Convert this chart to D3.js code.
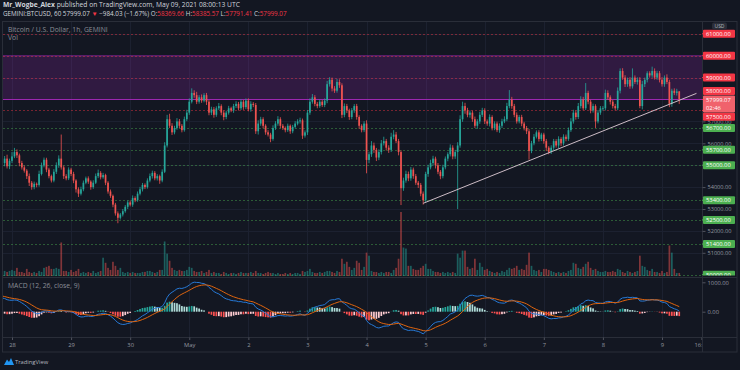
<!DOCTYPE html>
<html><head><meta charset="utf-8">
<script src="https://cdn.jsdelivr.net/npm/d3@7"></script>
<style>
html,body{margin:0;padding:0;background:#131722;}
svg{display:block;}
text{font-family:"Open Sans","Noto Sans",sans-serif;}
</style></head><body>
<svg id="c" width="740" height="370"></svg>
<script>
// ---------- DATA ----------
const firstCandleTime = "2021-04-27T20:00:00Z"; // hourly candles
const firstOpen = 54950;
const closes = [
// Apr 27 20-23
55100,55300,54950,55200,
// Apr 28
55400,55600,55450,55100,54900,54750,54500,54200,54000,54150,54100,54600,55000,55250,54800,54500,54300,54700,55000,55300,54900,54500,54400,54800,
// Apr 29
54600,54300,53900,53700,53900,54200,54400,54250,54000,54200,54500,54650,54450,54550,54200,53800,53600,53200,52800,52600,52750,52900,53100,53300,
// Apr 30
53200,53500,53400,53700,53900,54100,54000,54300,54500,54650,54400,54500,54300,54700,55900,57100,56800,56500,56700,57000,56800,56600,57100,57400,
// May 1
57900,58300,58200,57900,58100,57950,58200,57900,57400,57550,57300,57600,57700,57400,57200,57400,57600,57500,57700,57800,57600,57900,57650,57950,
// May 2
57550,57800,57750,56550,56900,57100,56800,56500,56400,56200,56700,56900,57100,56800,56700,56600,56800,56550,56750,56900,57000,57050,56350,56500,
// May 3
57400,57900,58100,57800,57700,57900,57750,57950,58700,58900,58500,58400,58800,58650,57300,57700,57500,57200,57500,57700,57200,56800,56600,56900,
// May 4
55240,55500,55900,55700,55350,55600,56000,56100,55800,55700,56300,56400,56100,55600,53950,54300,54600,54400,54800,54500,54200,54100,53700,53400,
// May 5
54600,54900,55100,55300,55000,54700,54500,54900,55300,55500,55800,55400,55600,55900,57100,57700,57500,57300,57400,57100,56800,57000,57300,57500,
// May 6
57000,56900,57200,56700,56900,56600,56800,57000,57100,57700,58000,57700,57300,57000,57200,56900,56700,56550,55650,56000,56300,56500,56200,56400,
// May 7
56100,55800,55600,55800,56100,55900,56200,56000,56300,56200,56600,57000,57400,57200,57700,58000,57600,58300,57900,57500,57700,57000,57400,57600,
// May 8
57600,58300,58100,57900,57700,57600,58400,59300,59000,58700,58900,58600,59000,58800,58900,57700,58700,58900,59200,59100,59300,59000,59200,58900,
// May 9 00-07
58700,59000,58800,57800,58400,58300,58369.66,57999.07
];
const wickUp = [
150,120,180,100,
200,190,120,80,100,90,70,120,80,100,60,150,120,100,90,80,70,120,130,150,1100,80,90,100,
80,100,60,90,120,100,80,90,60,110,120,150,80,100,60,70,90,60,80,90,70,100,80,90,
90,120,80,100,110,90,70,100,120,100,80,90,70,110,150,200,250,120,100,150,110,80,120,130,
150,210,120,150,100,130,90,100,80,120,110,90,140,80,100,90,110,70,100,120,90,110,80,100,
100,120,80,90,150,110,90,70,100,80,120,110,140,90,80,70,100,60,90,110,100,120,80,90,
120,150,150,100,90,110,80,100,150,120,100,110,140,120,90,120,100,80,110,90,100,80,70,110,
150,120,200,130,90,120,150,200,100,110,180,200,120,100,80,130,150,110,120,90,100,80,90,100,
100,120,150,130,90,100,80,120,100,90,150,110,100,150,180,200,150,120,100,90,120,100,140,120,
100,90,120,80,100,90,110,120,130,150,430,120,100,110,90,100,80,90,100,110,120,90,100,80,
80,100,70,110,100,90,120,80,110,100,120,150,130,100,140,150,120,450,100,90,110,80,120,100,
100,150,120,90,80,100,150,120,130,110,100,120,420,100,110,120,150,100,90,90,200,120,110,100,
120,100,150,100,90,110,120,15.91
];
const wickDown = [
120,150,100,130,
100,80,120,150,100,90,130,150,120,100,110,80,70,100,120,100,90,80,100,120,100,130,90,80,
100,120,150,150,80,90,70,100,120,80,60,90,100,70,110,100,90,120,100,250,80,90,70,100,
80,100,90,70,80,100,90,70,80,110,90,100,150,80,60,90,100,120,90,80,110,100,70,90,
100,80,120,110,90,100,80,150,120,110,130,90,80,120,150,100,90,80,110,90,100,80,120,90,
90,110,100,120,150,100,120,110,90,150,80,90,100,110,90,100,80,120,90,70,80,100,150,90,
120,100,90,110,100,80,90,100,120,110,130,100,90,120,150,110,120,130,100,110,120,140,100,90,
610,150,120,140,160,120,110,100,130,140,100,120,90,150,770,120,100,130,110,120,100,140,120,200,
100,130,90,120,150,110,140,100,90,120,100,130,110,2600,100,120,150,110,130,120,100,140,110,100,
120,100,130,110,100,90,120,100,80,90,100,120,110,100,90,120,110,130,400,100,90,80,120,100,
120,150,100,90,110,100,120,130,100,110,90,80,100,120,90,110,100,80,120,130,100,300,90,100,
110,100,120,130,110,100,90,120,100,130,120,110,100,90,120,100,150,130,120,100,110,90,100,120,
110,120,100,150,130,100,120,207.66
];
const volumes = [
5,5,4,5,
6,5,8,4,4,3,7,4,3,4,3,5,4,8,9,10,7,7,8,7,33,5,5,4,
6,4,5,7,3,4,3,4,3,5,3,4,5,18,13,8,6,14,10,6,8,4,3,4,
3,4,3,3,3,4,4,5,5,4,3,4,6,6,34,22,15,8,6,5,6,5,5,6,
9,8,5,4,4,5,3,4,6,3,4,3,3,2,4,3,2,3,3,2,3,4,3,3,
3,4,3,5,3,3,2,3,4,3,3,2,3,2,2,3,2,3,2,3,3,2,5,4,
5,7,4,3,3,4,3,4,5,5,4,3,5,4,17,12,14,9,6,8,15,13,6,9,
23,20,5,4,4,3,4,3,4,4,3,6,8,17,63,28,27,10,10,7,6,6,8,10,
12,7,7,5,4,4,3,4,3,4,3,4,3,22,18,25,25,9,7,8,17,6,13,9,
6,7,5,4,3,4,3,5,4,6,8,7,8,10,6,7,6,11,23,10,6,5,6,4,
7,7,6,5,4,3,4,3,4,3,5,6,13,12,8,7,9,12,14,8,6,7,5,4,
4,5,4,4,5,4,7,6,4,3,5,4,3,4,5,20,10,9,6,5,7,4,4,3,
5,3,4,30,23,7,3,3
];
const resistanceLevels = [61000, 60000, 59000, 58000, 57500];
const supportLevels = [56700, 55700, 55000, 53400, 52500, 51400, 50000];
const zoneTop = 60000, zoneBottom = 58000;
const trendStart = ["2021-05-04T23:00:00Z", 53260];
const trendEnd = ["2021-05-09T14:00:00Z", 58280];
const priceTicks = [51000,52000,53000,54000,55000,56000,57000,58000,59000,60000,61000];
const macdTicks = [0, 1000];
const macdSeed = [55000, 54510, 550]; // EMA12, EMA26, signal before first visible bar
const dayTicks = ["2021-04-28","2021-04-29","2021-04-30","2021-05-01","2021-05-02","2021-05-03","2021-05-04","2021-05-05","2021-05-06","2021-05-07","2021-05-08","2021-05-09","2021-05-09T16:00"];
const publisher = "Mr_Wogbe_Alex";
const publishText = " published on TradingView.com, May 09, 2021 08:00:13 UTC";
const symbolText = "GEMINI:BTCUSD, 60";
const lastPriceText = "57999.07";
const changeText = "\u2212984.03 (\u22121.67%)";
const ohlcNames = ["O:","H:","L:","C:"];
const ohlcValues = ["58369.66","58385.57","57791.41","57999.07"];
const titleText = "Bitcoin / U.S. Dollar, 1h, GEMINI";
const volText = "Vol";
const macdText = "MACD (12, 26, close, 9)";
const countdownText = "02:46";
const currencyText = "USD";

// ---------- LAYOUT ----------
const W = 740, H = 370;
const L = 3, R = 702, RR = 737, T = 21.5, PB = 277, MB = 337, B = 352;
const UP = "#26a69a", DN = "#ef5350";
const svg = d3.select("#c");
svg.append("rect").attr("width", W).attr("height", H).attr("fill", "#131722");

const t0 = new Date(firstCandleTime).getTime();
const bars = closes.map((c, i) => {
  const o = i === 0 ? firstOpen : closes[i - 1];
  return {t: new Date(t0 + i * 3600e3), o, c, h: Math.max(o, c) + wickUp[i], l: Math.min(o, c) - wickDown[i], v: volumes[i]};
});

const x = d3.scaleUtc().domain([new Date("2021-04-28T00:00:00Z"), new Date("2021-05-09T00:00:00Z")]).range([12, 662]);
const y = d3.scaleLinear().domain([50000, 61000]).range([274.7, 33.8]);
const yv = d3.scaleLinear().domain([0, d3.max(volumes)]).range([276, 212]);
const ym = d3.scaleLinear().domain([-1000, 1000]).range([341.1, 282.3]);
const bw = 1.7;

const defs = svg.append("defs");
defs.append("clipPath").attr("id", "cp").append("rect").attr("x", L).attr("y", T).attr("width", R - L).attr("height", PB - T);
defs.append("clipPath").attr("id", "cm").append("rect").attr("x", L).attr("y", PB).attr("width", R - L).attr("height", MB - PB);
defs.append("clipPath").attr("id", "ct").append("rect").attr("x", L).attr("y", MB).attr("width", R - L).attr("height", B - MB);
defs.append("clipPath").attr("id", "ca").append("rect").attr("x", R).attr("y", T).attr("width", RR - R).attr("height", PB - 1.5 - T);

// grid
const grid = svg.append("g").attr("stroke", "#1c2130").attr("stroke-width", 1);
dayTicks.slice(0, 12).forEach(d => {
  const xx = Math.round(x(new Date(d + "T00:00:00Z"))) + 0.5;
  grid.append("line").attr("x1", xx).attr("x2", xx).attr("y1", T).attr("y2", MB);
});
priceTicks.forEach(p => {
  const yy = Math.round(y(p)) + 0.5;
  grid.append("line").attr("x1", L).attr("x2", R).attr("y1", yy).attr("y2", yy);
});

// price pane
const pp = svg.append("g").attr("clip-path", "url(#cp)");
pp.append("rect").attr("x", L).attr("width", R - L).attr("y", y(zoneTop)).attr("height", y(zoneBottom) - y(zoneTop))
  .attr("fill", "rgba(156,39,176,0.22)");
pp.append("line").attr("x1", L).attr("x2", R).attr("y1", y(zoneTop)).attr("y2", y(zoneTop)).attr("stroke", "rgba(156,39,176,0.6)");
pp.append("line").attr("x1", L).attr("x2", R).attr("y1", y(zoneBottom)).attr("y2", y(zoneBottom)).attr("stroke", "#9c27b0").attr("stroke-width", 1);
resistanceLevels.filter(p => p !== zoneBottom).forEach(p => {
  pp.append("line").attr("x1", L).attr("x2", R).attr("y1", Math.round(y(p)) + 0.5).attr("y2", Math.round(y(p)) + 0.5)
    .attr("stroke", "rgba(242,54,69,0.45)").attr("stroke-dasharray", "2,2");
});
supportLevels.forEach(p => {
  pp.append("line").attr("x1", L).attr("x2", R).attr("y1", Math.round(y(p)) + 0.5).attr("y2", Math.round(y(p)) + 0.5)
    .attr("stroke", "rgba(76,175,80,0.45)").attr("stroke-dasharray", "2,2");
});

// volume
pp.append("g").selectAll("rect").data(bars).join("rect")
  .attr("x", d => x(d.t) - bw / 2).attr("width", bw)
  .attr("y", d => yv(d.v)).attr("height", d => 276 - yv(d.v))
  .attr("fill", d => d.c >= d.o ? "rgba(38,166,154,0.5)" : "rgba(239,83,80,0.5)");

// candles
const cg = pp.append("g");
cg.selectAll("line").data(bars).join("line")
  .attr("x1", d => x(d.t)).attr("x2", d => x(d.t))
  .attr("y1", d => y(d.h)).attr("y2", d => y(d.l))
  .attr("stroke", d => d.c >= d.o ? UP : DN).attr("stroke-width", 0.8);
cg.selectAll("rect").data(bars).join("rect")
  .attr("x", d => x(d.t) - bw / 2).attr("width", bw)
  .attr("y", d => y(Math.max(d.o, d.c)))
  .attr("height", d => Math.max(0.8, Math.abs(y(d.o) - y(d.c))))
  .attr("fill", d => d.c >= d.o ? UP : DN);

// trend line
{
  const x1 = x(new Date(trendStart[0])), y1 = y(trendStart[1]);
  const x2 = x(new Date(trendEnd[0])), y2 = y(trendEnd[1]);
  pp.append("line").attr("x1", x1).attr("y1", y1).attr("x2", x2).attr("y2", y2)
    .attr("stroke", "#cdbcc6").attr("stroke-width", 1);
}

// MACD
const k12 = 2 / 13, k26 = 2 / 27, k9 = 2 / 10;
let e12 = macdSeed[0], e26 = macdSeed[1], sg = macdSeed[2];
const macd = bars.map(d => {
  e12 = d.c * k12 + e12 * (1 - k12);
  e26 = d.c * k26 + e26 * (1 - k26);
  const m = e12 - e26;
  sg = m * k9 + sg * (1 - k9);
  return {t: d.t, m, s: sg, h: m - sg};
});
macd.forEach((d, i) => {
  const prev = i ? macd[i - 1].h : d.h;
  d.col = d.h >= 0 ? (d.h >= prev ? "#26a69a" : "#b2dfdb") : (d.h < prev ? "#ff5252" : "#ffcdd2");
});
const mg = svg.append("g").attr("clip-path", "url(#cm)");
mg.selectAll("rect").data(macd).join("rect")
  .attr("x", d => x(d.t) - bw / 2).attr("width", bw)
  .attr("y", d => Math.min(ym(0), ym(d.h))).attr("height", d => Math.abs(ym(d.h) - ym(0)))
  .attr("fill", d => d.col);
mg.append("path").datum(macd).attr("fill", "none").attr("stroke", "#2679d6").attr("stroke-width", 1)
  .attr("d", d3.line().x(d => x(d.t)).y(d => ym(d.m)));
mg.append("path").datum(macd).attr("fill", "none").attr("stroke", "#e0650f").attr("stroke-width", 1)
  .attr("d", d3.line().x(d => x(d.t)).y(d => ym(d.s)));

// frame / separators
const fr = svg.append("g").attr("stroke", "#2a2e39").attr("fill", "none");
fr.append("rect").attr("x", L - 0.5).attr("y", T).attr("width", RR - L + 0.5).attr("height", B - T);
fr.append("line").attr("x1", R + 0.5).attr("x2", R + 0.5).attr("y1", T).attr("y2", B);
fr.append("line").attr("x1", L).attr("x2", RR).attr("y1", PB + 0.5).attr("y2", PB + 0.5);
fr.append("line").attr("x1", L).attr("x2", RR).attr("y1", MB + 0.5).attr("y2", MB + 0.5);

// level labels geometry
const curP = closes[closes.length - 1];
const cy = y(curP) + 0.5, cTop = cy - 4.4, cBot = cy + 12.4;
const levelLabs = [...resistanceLevels.map(p => ({p, col: "#f23645"})), ...supportLevels.map(p => ({p, col: "#4caf50"}))].map(d => {
  let ly = y(d.p);
  if (ly > cTop - 4.4 && ly < cBot + 4.4) ly = ly < cy ? cTop - 4.6 : cBot + 4.4;
  return {...d, ly};
});
const covered = yy => (yy > cTop - 2 && yy < cBot + 2) || levelLabs.some(l => Math.abs(l.ly - yy) < 3);

// price axis ticks (only the ones not hidden under a label box)
const ax = svg.append("g").attr("clip-path", "url(#ca)").append("g").attr("transform", `translate(${R + 0.5},0)`)
  .call(d3.axisRight(y).tickValues(priceTicks.filter(p => !covered(y(p)))).tickFormat(d3.format(".2f")).tickSize(3).tickPadding(2));
ax.select(".domain").remove();
ax.selectAll("line").attr("stroke", "#50535e");
ax.selectAll("text").attr("fill", "#9598a1").attr("font-size", 5.6).attr("font-family", "Open Sans");

const labs = svg.append("g").attr("clip-path", "url(#ca)");
levelLabs.forEach(d => {
  labs.append("line").attr("x1", R).attr("x2", R + 3).attr("y1", y(d.p)).attr("y2", y(d.p)).attr("stroke", d.col);
  labs.append("rect").attr("x", R + 1).attr("y", d.ly - 4).attr("width", 32).attr("height", 8).attr("rx", 1).attr("fill", d.col);
  labs.append("text").attr("x", R + 4).attr("y", d.ly).attr("dy", "0.35em").attr("fill", "#fff").attr("font-size", 5.8).text(d3.format(".2f")(d.p));
});
labs.append("rect").attr("x", R + 1).attr("y", cTop).attr("width", 32).attr("height", cBot - cTop).attr("rx", 1).attr("fill", "#f0626c");
labs.append("text").attr("x", R + 4).attr("y", cy).attr("dy", "0.35em").attr("fill", "#fff").attr("font-size", 5.8).text(d3.format(".2f")(curP));
labs.append("text").attr("x", R + 4).attr("y", cy + 7.6).attr("dy", "0.35em").attr("fill", "#fff").attr("font-size", 5.8).text(countdownText);

// USD badge
svg.append("rect").attr("x", 712).attr("y", 22.5).attr("width", 15).attr("height", 7).attr("rx", 2).attr("fill", "#2a2e39");
svg.append("text").attr("x", 719.5).attr("y", 26).attr("dy", "0.35em").attr("text-anchor", "middle").attr("fill", "#b2b5be").attr("font-size", 5).text(currencyText);

// MACD axis
const mx = svg.append("g").attr("transform", `translate(${R + 0.5},0)`)
  .call(d3.axisRight(ym).tickValues(macdTicks).tickFormat(d3.format(".2f")).tickSize(3).tickPadding(2));
mx.select(".domain").remove();
mx.selectAll("line").attr("stroke", "#50535e");
mx.selectAll("text").attr("fill", "#9598a1").attr("font-size", 5.8).attr("font-family", "Open Sans");

// time axis
const tx = svg.append("g").attr("clip-path", "url(#ct)").append("g").attr("transform", `translate(0,${MB + 0.5})`)
  .call(d3.axisBottom(x).tickValues(dayTicks.map(d => new Date(d.length > 10 ? d + ":00Z" : d + "T00:00:00Z")))
    .tickFormat(d => d.getUTCHours() ? d3.utcFormat("%H:%M")(d) : (d.getUTCDate() === 1 ? d3.utcFormat("%b")(d) : d.getUTCDate()))
    .tickSize(2.5).tickPadding(2.5));
tx.select(".domain").remove();
tx.selectAll("line").attr("stroke", "#50535e");
tx.selectAll("text").attr("fill", "#9598a1").attr("font-size", 5.8).attr("font-family", "Open Sans");

// header texts
const h1 = svg.append("text").attr("x", 3).attr("y", 7).attr("font-size", 6.7).attr("fill", "#d1d4dc");
h1.append("tspan").attr("font-weight", "bold").text(publisher);
h1.append("tspan").text(publishText);
const h2 = svg.append("text").attr("x", 3).attr("y", 16).attr("font-size", 6.3).attr("fill", "#d1d4dc");
h2.append("tspan").text(symbolText + "  " + lastPriceText + " ");
h2.append("tspan").attr("fill", "#f23645").text("\u25BC");
h2.append("tspan").text(" " + changeText + " ");
ohlcNames.forEach((n, i) => {
  h2.append("tspan").text(n);
  h2.append("tspan").attr("fill", "#f23645").text(ohlcValues[i] + (i < 3 ? " " : ""));
});
svg.append("text").attr("x", 8).attr("y", 31.5).attr("font-size", 6.8).attr("fill", "#8a8d96").text(titleText);
svg.append("text").attr("x", 8).attr("y", 39.5).attr("font-size", 6.8).attr("fill", "#8a8d96").text(volText);
svg.append("text").attr("x", 8).attr("y", 287.5).attr("font-size", 6.8).attr("fill", "#8a8d96").text(macdText);

// TradingView logo
const lg = svg.append("g").attr("transform", "translate(4,357)");
lg.append("path").attr("d", "M0,8 L3,2.5 L5,5 L7,1 L10,8 Z").attr("fill", "#2196f3");
svg.append("text").attr("x", 15).attr("y", 364).attr("font-size", 5.8).attr("fill", "#b2b5be").text("TradingView");
</script>
</body></html>
